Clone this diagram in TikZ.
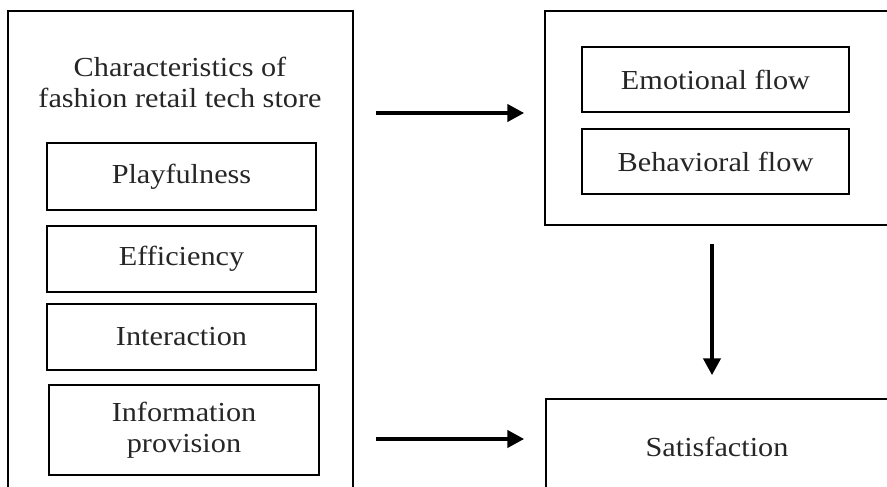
\documentclass[tikz,border=0pt]{standalone}
\usepackage{fontspec}
\setmainfont[FakeStretch=1.1]{Liberation Serif}
\usetikzlibrary{arrows.meta,calc}
\tikzset{
  outerbox/.style={draw, line width=1.5pt, inner sep=0pt},
  innerbox/.style={draw, line width=2.6pt, inner sep=0pt, align=center},
  lbl/.style={font=\fontsize{27.5}{31}\selectfont, text=black!85},
  arr/.style={line width=4.5pt, -{Triangle[length=17pt,width=17pt]}}
}
\begin{document}
\begin{tikzpicture}[x=1pt,y=-1pt]
\clip (0,0) rectangle (887,487);
\fill[white] (0,0) rectangle (887,487);
% outer boxes
\node[outerbox, minimum width=345pt, minimum height=484pt] (leftbox) at (180.5,253) {};
\node[outerbox, minimum width=350pt, minimum height=214pt] (flowbox) at (720,118) {};
\node[outerbox, lbl, minimum width=342pt, minimum height=96pt] (sat) at (717,447) {Satisfaction};
% title
\node[lbl, align=center] (title) at (180,82) {Characteristics of\\fashion retail tech store};
% inner boxes left
\node[innerbox, lbl, minimum width=269pt, minimum height=67pt] (play) at (181.5,176.5) {Playfulness};
\node[innerbox, lbl, minimum width=269pt, minimum height=66pt] (eff) at (181.5,259) {Efficiency};
\node[innerbox, lbl, minimum width=269pt, minimum height=66pt] (inter) at (181.5,337) {Interaction};
\node[innerbox, lbl, minimum width=270pt, minimum height=90pt] (info) at (184,430) {Information\\provision};
% inner boxes right
\node[innerbox, lbl, minimum width=267pt, minimum height=65pt] (emo) at (715.5,79.5) {Emotional flow};
\node[innerbox, lbl, minimum width=267pt, minimum height=65pt] (beh) at (715.5,161.5) {Behavioral flow};
% arrows
\draw[arr] ($(leftbox.east |- flowbox.west)+(22,-5)$) -- ($(flowbox.west)+(-20,-5)$);
\draw[arr] ($(leftbox.east |- sat.west)+(22,-8)$) -- ($(sat.west)+(-21,-8)$);
\draw[arr] ($(flowbox.south)+(-8,18)$) -- ($(sat.north -| flowbox.south)+(-8,-23)$);
\end{tikzpicture}
\end{document}
